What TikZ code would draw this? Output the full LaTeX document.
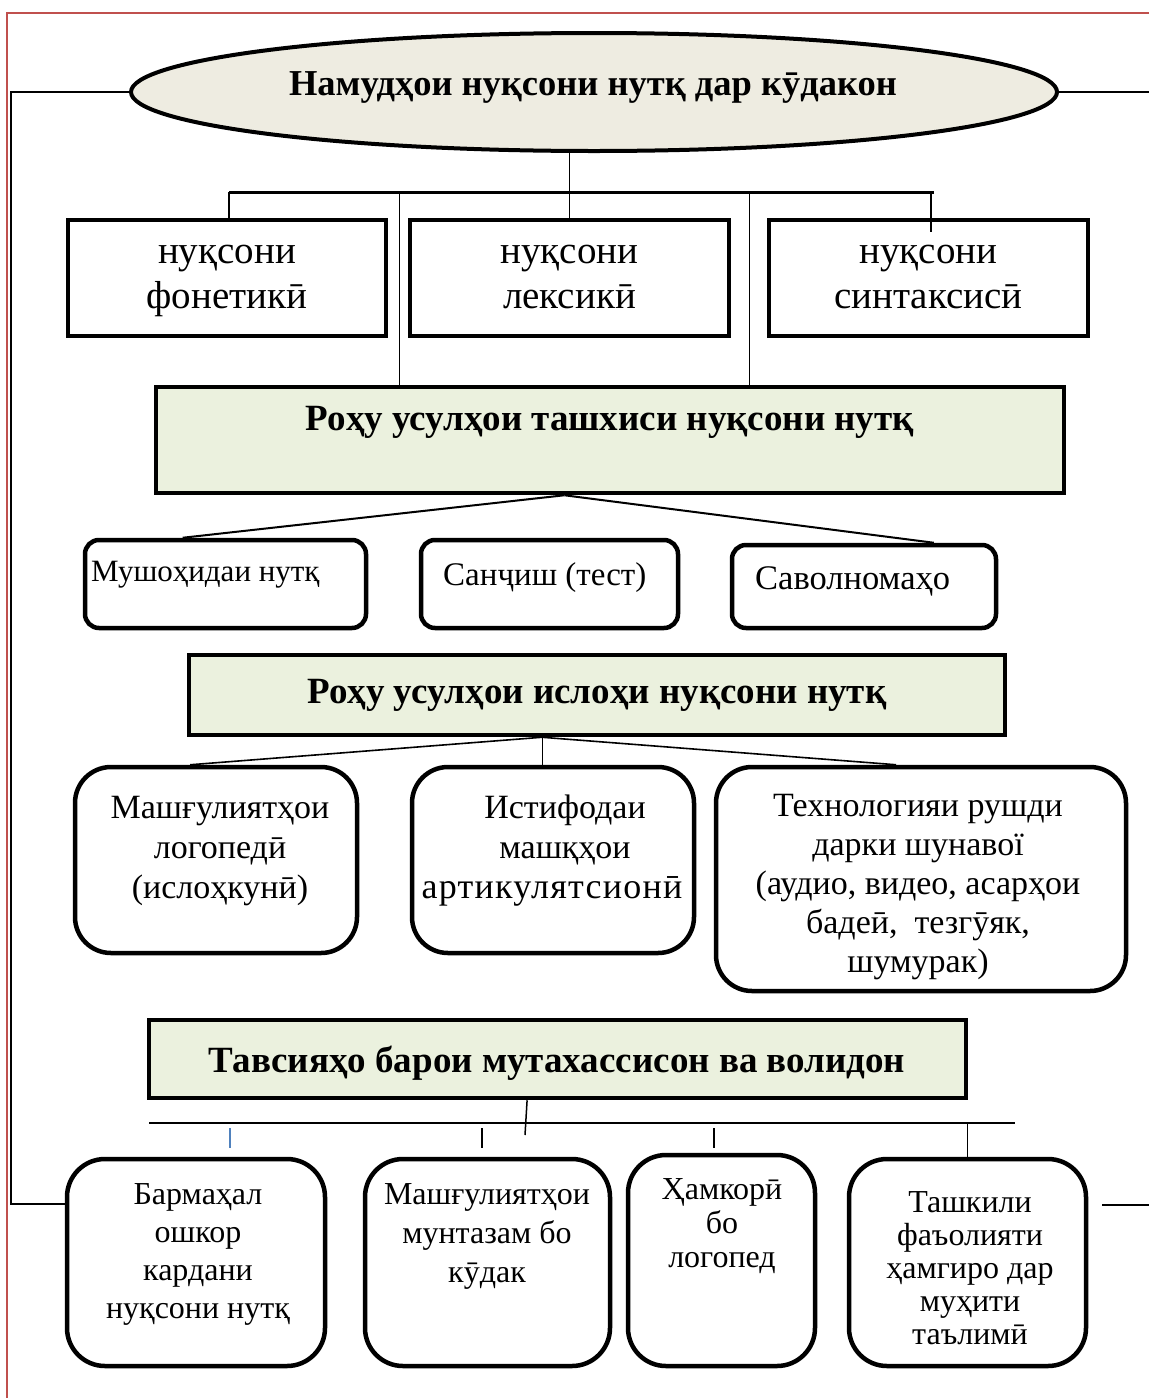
\documentclass[tikz,border=0pt]{standalone}
\usepackage{fontspec}
\setmainfont{Liberation Serif}
\usetikzlibrary{shapes.geometric,calc}
\definecolor{bordred}{RGB}{192,80,77}
\definecolor{tanfill}{RGB}{238,236,225}
\definecolor{lgreen}{RGB}{235,241,222}
\definecolor{lblue}{RGB}{79,129,189}
\newcommand\PlaceBox[6]{\node[#6, minimum width={#4-#2-4}, minimum height={#5-#3-4}] (#1) at ({(#2+#4)/2},{(#3+#5)/2}) {};}
\begin{document}
\begin{tikzpicture}[x=1pt,y=-1pt,
  sqbox/.style={draw, line width=4.5pt, rectangle, inner sep=0pt, fill=white},
  rbox/.style={draw, line width=4.5pt, rectangle, rounded corners=#1, inner sep=0pt, fill=white},
  greenbox/.style={draw, line width=4.5pt, rectangle, fill=lgreen, inner sep=0pt},
  hdr/.style={font=\bfseries\fontsize{37}{42}\selectfont, inner sep=0pt, anchor=base},
  big/.style={font=\fontsize{39}{45}\selectfont, align=center, inner sep=0pt},
  mid/.style={font=\fontsize{#1}{36}\selectfont, inner sep=0pt, anchor=base west},
  txtD/.style={font=\fontsize{34}{40}\selectfont, align=center, inner sep=0pt},
  txtF/.style={font=\fontsize{34}{39}\selectfont, align=center, inner sep=0pt},
  txtG/.style={font=\fontsize{32}{#1}\selectfont, align=center, inner sep=0pt},
]
\useasboundingbox (0,0) rectangle (1149,1398);
\fill[white] (0,0) rectangle (1149,1398);
% page border
\coordinate (rTL) at (7,13); \coordinate (rTR) at (1149,13); \coordinate (rBL) at (7,1398);
\draw[bordred, line width=2pt] (rTR) -- (rTL) -- (rBL);

% title ellipse
\node[ellipse, draw, line width=4pt, fill=tanfill, minimum width=926, minimum height=118, inner sep=0pt] (ell) at (594,92) {};
\node[font=\bfseries\fontsize{36.5}{42}\selectfont, inner sep=0pt, anchor=base] (tTitle) at (593,95) {Намудҳои нуқсони нутқ дар кӯдакон};

% bar 1 and first row
\coordinate (barL) at (229,192); \coordinate (barR) at (934,192);
\coordinate (vA) at (399,192); \coordinate (vB) at (749,192);
\coordinate (v3) at (931,232);
\PlaceBox{gA}{154}{385}{1066}{495}{greenbox}
\draw[line width=1pt] (vA) -- (vA |- gA.north);
\draw[line width=1pt] (vB) -- (vB |- gA.north);
\PlaceBox{nf}{66}{218}{388}{338}{sqbox}
\PlaceBox{nl}{408}{218}{731}{338}{sqbox}
\PlaceBox{ns}{767}{218}{1090}{338}{sqbox}
\draw[line width=3pt] (barL) -- (barR);
\draw[line width=1.5pt] (barL) -- (barL |- nf.north);
\draw[line width=1.5pt] (v3 |- barR) -- (v3);
\draw[line width=1.5pt] (ell.south -| nl.north) -- (nl.north);
\node[big] (tNF) at (227,277) {\strut нуқсони\\фонетикӣ\strut};
\node[big] (tNL) at (569.5,277) {\strut нуқсони\\лексикӣ\strut};
\node[big] (tNS) at (928.5,277) {\strut нуқсони\\синтаксисӣ\strut};

% diagnosis methods
\node[hdr] (tGA) at (610,430) {Роҳу усулҳои ташхиси нуқсони нутқ};
\PlaceBox{mA}{83}{538}{368}{630}{rbox=14pt}
\PlaceBox{mB}{419}{538}{680}{630}{rbox=14pt}
\PlaceBox{mC}{730}{543}{998}{630}{rbox=14pt}
\coordinate (apA) at ($(gA.south west)!0.45!(gA.south east)$);
\draw[line width=2pt] (apA) -- ($(mA.north west)!0.35!(mA.north east)$);
\draw[line width=2pt] (apA) -- ($(mC.north west)!0.76!(mC.north east)$);
\node[mid=31] (tA) at (91,581) {Мушоҳидаи нутқ};
\node[mid=33] (tB) at (443,585) {Санҷиш (тест)};
\node[mid=34.5] (tC) at (755,589) {Саволномаҳо};

% correction methods
\PlaceBox{gB}{187}{653}{1007}{737}{greenbox}
\node[hdr] (tGB) at (597,703) {Роҳу усулҳои ислоҳи нуқсони нутқ};
\PlaceBox{rD}{73}{765}{359}{955}{rbox=36pt}
\PlaceBox{rE}{410}{765}{696}{955}{rbox=36pt}
\PlaceBox{rF}{714}{765}{1128}{993}{rbox=36pt}
\coordinate (apB) at ($(gB.south west)!0.433!(gB.south east)$);
\draw[line width=1.6pt] (apB) -- ($(rD.north west)!0.41!(rD.north east)$);
\draw[line width=1pt] (apB) -- (apB |- rE.north);
\draw[line width=1.6pt] (apB) -- ($(rF.north west)!0.44!(rF.north east)$);
\node[txtD] (tD) at (220,850) {\strut Машғулиятҳои\\логопедӣ\\(ислоҳкунӣ)\strut};
\node[txtD] (tE) at (552,850) {\strut\hspace*{26pt}Истифодаи\\\hspace*{26pt}машқҳои\\{\fontsize{36}{40}\selectfont\addfontfeature{LetterSpace=3.5}артикулятсионӣ}\strut};
\node[txtF] (tF) at (918,887) {\strut Технологияи рушди\\дарки шунавої\\(аудио, видео, асарҳои\\бадеӣ,\ \ тезгӯяк,\\шумурак)\strut};

% recommendations
\PlaceBox{gC}{147}{1018}{968}{1100}{greenbox}
\node[hdr] (tGC) at (557,1072) {Тавсияҳо барои мутахассисон ва волидон};
\coordinate (apC) at ($(gC.south west)!0.463!(gC.south east)$);
\coordinate (apCend) at (525,1135);
\draw[line width=1.5pt] (apC) -- (apCend);
\coordinate (bar2L) at (149,1123); \coordinate (bar2R) at (1015,1123);
\draw[line width=2pt] (bar2L) -- (bar2R);
\coordinate (s1a) at (230,1128); \coordinate (s1b) at (230,1148);
\coordinate (s2a) at (482,1128); \coordinate (s2b) at (482,1148);
\coordinate (s3a) at (714,1128); \coordinate (s3b) at (714,1148);
\draw[lblue, line width=1.5pt] (s1a) -- (s1b);
\draw[line width=1.5pt] (s2a) -- (s2b);
\draw[line width=1.5pt] (s3a) -- (s3b);
\PlaceBox{bG1}{65}{1157}{327}{1368}{rbox=38pt}
\PlaceBox{bG2}{363}{1157}{612}{1368}{rbox=38pt}
\PlaceBox{bG3}{626}{1153}{817}{1368}{rbox=38pt}
\PlaceBox{bG4}{847}{1157}{1088}{1368}{rbox=38pt}
\draw[line width=1.5pt] (bG4.north |- bar2L) -- (bG4.north);
\node[txtG=38] (tG1) at (198,1254) {\strut Бармаҳал\\ошкор\\кардани\\нуқсони нутқ\strut};
\node[txtG=39] (tG2) at (487,1236) {\strut Машғулиятҳои\\мунтазам бо\\кӯдак\strut};
\node[txtG=34] (tG3) at (722,1227) {\strut Ҳамкорӣ\\бо\\логопед\strut};
\node[txtG=33] (tG4) at (970,1272) {\strut Ташкили\\фаъолияти\\ҳамгиро дар\\муҳити\\таълимӣ\strut};

% left and right connectors
\coordinate (lTop) at (11,92); \coordinate (lBot) at (11,1204); \coordinate (rTop) at (1149,92);
\coordinate (rgA) at (1102,1205); \coordinate (rgB) at (1149,1205);
\draw[line width=2pt] (ell.west) -- (lTop) -- (lBot) -- (lBot -| bG1.west);
\draw[line width=2pt] (ell.east) -- (rTop);
\draw[line width=2pt] (rgA) -- (rgB);
\end{tikzpicture}
\end{document}
